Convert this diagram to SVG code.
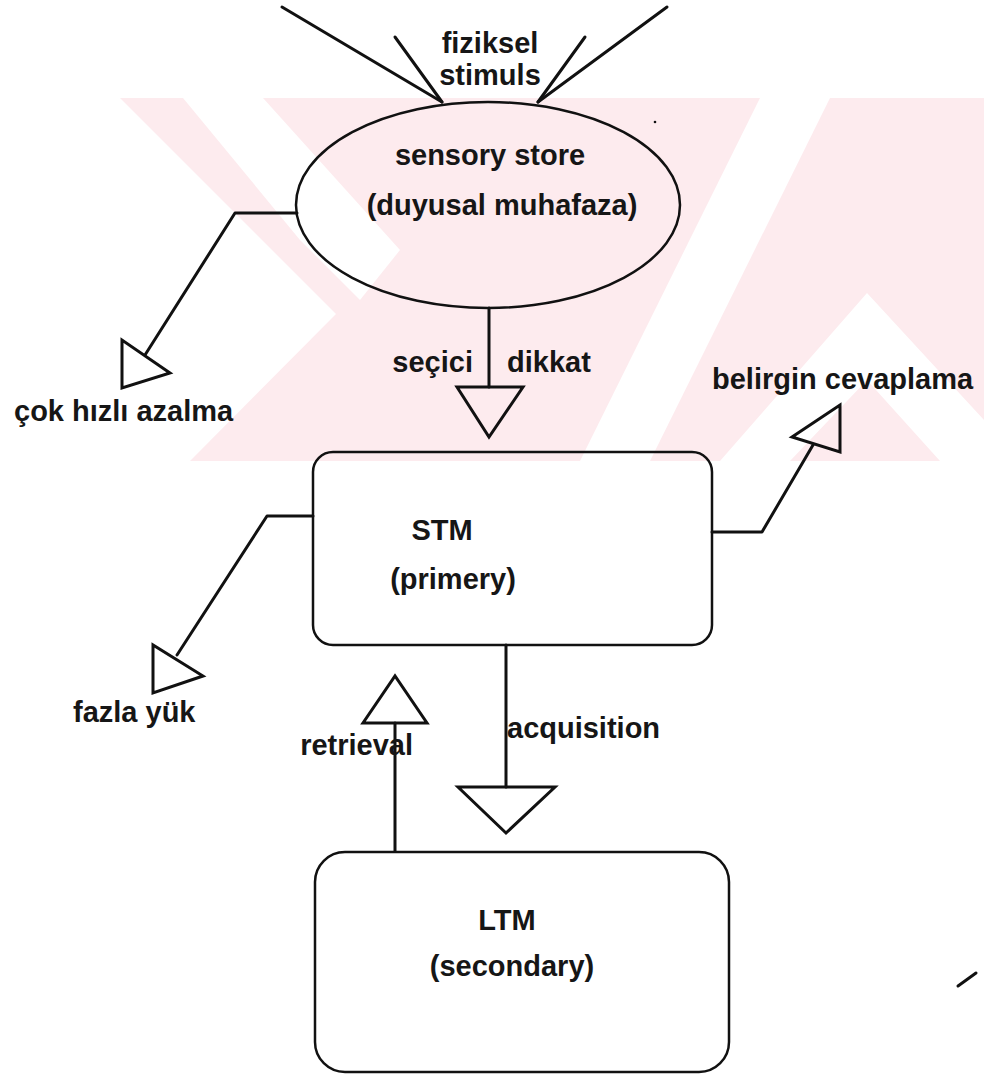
<svg xmlns="http://www.w3.org/2000/svg" width="984" height="1074" viewBox="0 0 984 1074">
<style>
.wm{fill:#fdebee;stroke:none}
.wh{fill:#ffffff;stroke:none}
.ln{fill:none;stroke:#111;stroke-width:3;stroke-linecap:round;stroke-linejoin:round}
.nd{fill:none;stroke:#111;stroke-width:2.5}
.ah{fill:none;stroke:#111;stroke-width:3;stroke-linejoin:miter}
text{font-family:"Liberation Sans",Arial,sans-serif;font-weight:bold;font-size:29px;fill:#161616}
</style>
<rect width="984" height="1074" fill="#fff"/>
<g id="watermark">
<rect class="wm" x="120" y="98" width="864" height="363"/>
<polygon class="wh" points="120,98 120,461 190,461 336,314"/>
<polygon class="wh" points="183,98 263,98 400,250 360,300 300,240"/>
<polygon class="wh" points="760,98 830,98 650,461 580,461"/>
<polygon class="wh" points="867,293 984,420 984,461 940,461 867,380 790,461 720,461"/>
</g>
<g id="connectors">
<polyline class="ln" points="282,7 442,102"/>
<polyline class="ln" points="395,37 442,102"/>
<polyline class="ln" points="667,7 538,102"/>
<polyline class="ln" points="585,37 538,102"/>
<polyline class="ln" points="297,213 235,213 145,355"/>
<polygon class="ah" points="122,340 122,388 170,373"/>
<polyline class="ln" points="489,308 489,387"/>
<polygon class="ah" points="457,387 523,387 489,437"/>
<polyline class="ln" points="712,532 762,532 813,445"/>
<polygon class="ah" points="792,437 840,405 840,452"/>
<polyline class="ln" points="313,516 267,516 177,655"/>
<polygon class="ah" points="153,645 153,693 203,676"/>
<polyline class="ln" points="506,645 506,787"/>
<polygon class="ah" points="458,787 555,787 506,833"/>
<polyline class="ln" points="395,851 395,723"/>
<polygon class="ah" points="363,723 427,723 395,676"/>
<line class="ln" x1="958" y1="986" x2="976" y2="973" stroke-width="2"/>
<circle cx="655" cy="122" r="1.3" fill="#111"/>
</g>
<g id="stimulus-label">
<text x="490" y="53" text-anchor="middle">fiziksel</text>
<text x="490" y="85" text-anchor="middle">stimuls</text>
</g>
<g id="sensory-store">
<ellipse class="nd" cx="488" cy="205" rx="192" ry="103"/>
<text x="490" y="165" text-anchor="middle">sensory store</text>
<text x="502" y="215" text-anchor="middle">(duyusal muhafaza)</text>
</g>
<g id="decay-label"><text x="14" y="421">çok hızlı azalma</text></g>
<g id="attention-label">
<text x="473" y="372" text-anchor="end">seçici</text>
<text x="507" y="372">dikkat</text>
</g>
<g id="response-label"><text x="712" y="389">belirgin cevaplama</text></g>
<g id="stm">
<rect class="nd" x="313" y="452" width="399" height="193" rx="20"/>
<text x="442" y="540" text-anchor="middle">STM</text>
<text x="453" y="589" text-anchor="middle">(primery)</text>
</g>
<g id="overload-label"><text x="73" y="722">fazla yük</text></g>
<g id="acquisition-label"><text x="507" y="738">acquisition</text></g>
<g id="retrieval-label"><text x="413" y="755" text-anchor="end">retrieval</text></g>
<g id="ltm">
<rect class="nd" x="315" y="852" width="414" height="220" rx="30"/>
<text x="507" y="930" text-anchor="middle">LTM</text>
<text x="512" y="976" text-anchor="middle">(secondary)</text>
</g>
</svg>
